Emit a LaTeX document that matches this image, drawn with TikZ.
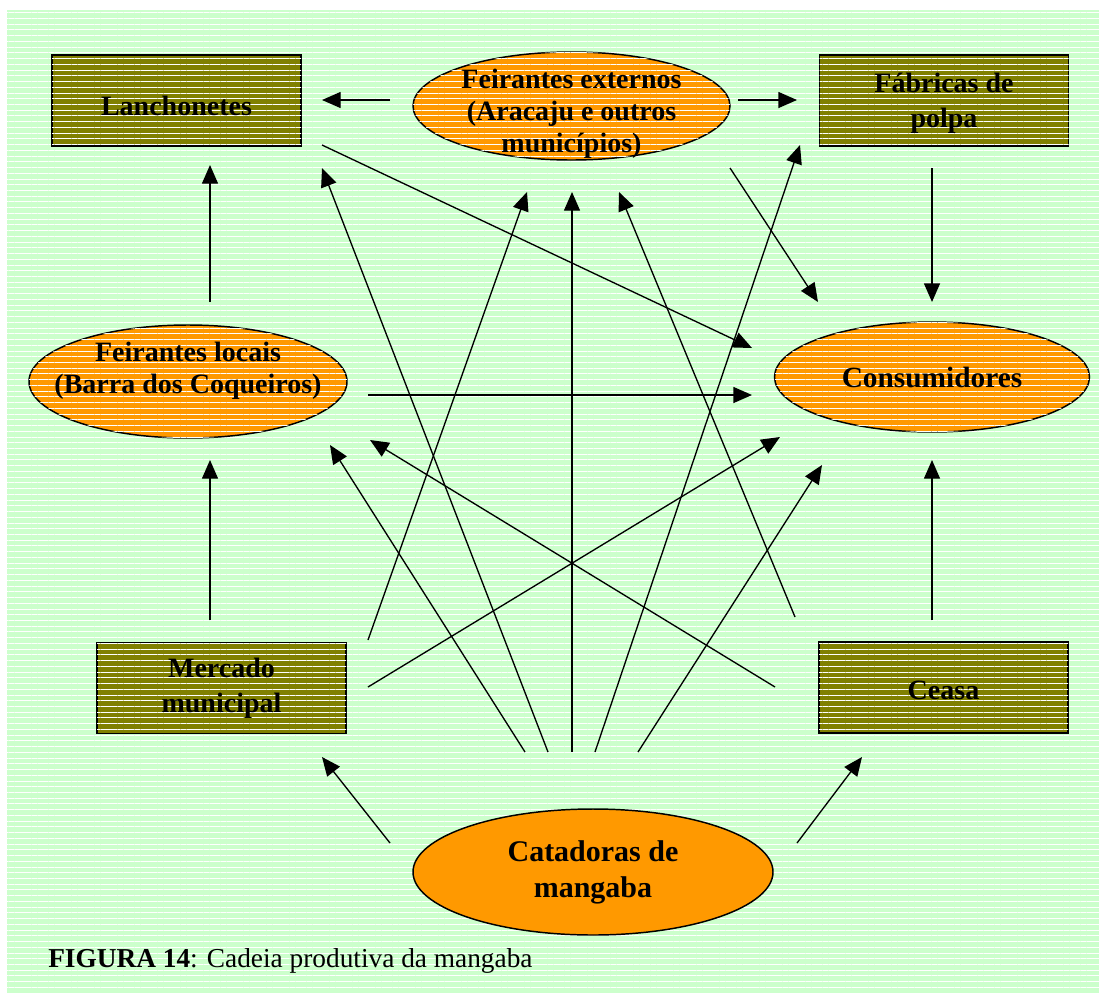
\documentclass[tikz,border=0pt]{standalone}
\usepackage{fontspec}
\setmainfont{Liberation Serif}
\usetikzlibrary{arrows.meta,shapes.geometric,patterns.meta}
\definecolor{bggreen}{HTML}{CCFFCC}
\definecolor{olivebox}{HTML}{808000}
\definecolor{orangeel}{HTML}{FF9900}
\tikzset{
  stripes/.style={postaction={pattern={Lines[angle=0,distance=4.3pt,line width=0.5pt]},pattern color=white}},
  boxnode/.style={rectangle, draw=black, line width=1.4pt, fill=olivebox, stripes,
    minimum width=186.75pt, minimum height=68.25pt, inner sep=0pt},
  boxtext/.style={inner sep=0pt, align=center, font=\fontsize{21pt}{26pt}\selectfont\bfseries},
  ellnode/.style={ellipse, draw=black, line width=1.1pt, fill=orangeel, inner sep=0pt},
  elltext/.style={inner sep=0pt, align=center, font=\fontsize{21pt}{24pt}\selectfont\bfseries},
  conn/.style={line width=1pt, -{Triangle[length=14pt,width=12pt]}},
}
\begin{document}
\begin{tikzpicture}[x=0.75pt,y=-0.75pt]
\useasboundingbox (0,0) rectangle (1099,993);
\path[fill=bggreen, stripes] (7,10) rectangle (1099,993);

% nodes
\node[boxnode, label={[boxtext, yshift=-4pt]center:{Lanchonetes}}] (lanch) at (176.5,100.5) {};
\node[boxnode, label={[boxtext, yshift=-2pt]center:{Fábricas de\\polpa}}] (fabr) at (944,100.5) {};
\node[boxnode, label={[boxtext]center:{Mercado\\municipal}}] (merc) at (221.5,688) {};
\node[boxnode, label={[boxtext, yshift=-2pt]center:{Ceasa}}] (ceasa) at (943.5,687.5) {};
\node[ellnode, stripes, minimum width=237.75pt, minimum height=81pt,
  label={[elltext, yshift=-6pt]center:{Feirantes externos\\(Aracaju e outros\\municípios)}}] (fext) at (571.5,106) {};
\node[ellnode, stripes, minimum width=238.5pt, minimum height=84.75pt,
  label={[elltext, yshift=8pt]center:{Feirantes locais\\(Barra dos Coqueiros)}}] (floc) at (188,381.5) {};
\node[ellnode, stripes, minimum width=236.25pt, minimum height=82.5pt,
  label={[elltext, font=\fontsize{22pt}{26pt}\selectfont\bfseries]center:{Consumidores}}] (cons) at (932,377) {};
\node[ellnode, minimum width=270pt, minimum height=94.5pt,
  label={[elltext, font=\fontsize{22.5pt}{27pt}\selectfont\bfseries]center:{Catadoras de\\mangaba}}] (cat) at (593,872) {};

\node[anchor=base west, inner sep=0pt, font=\fontsize{20.5pt}{24pt}\selectfont] (cap) at (48,967)
  {\textbf{FIGURA 14}: Cadeia produtiva da mangaba};

% connector end points
\coordinate (s1) at (390,100);  \coordinate (e1) at (322,100);
\coordinate (s2) at (738,100);  \coordinate (e2) at (797,100);
\coordinate (s3) at (210,302);  \coordinate (e3) at (210,165);
\coordinate (s4) at (932,168);  \coordinate (e4) at (932,302);
\coordinate (s5) at (730,168);  \coordinate (e5) at (818,302);
\coordinate (s6) at (322,145);  \coordinate (e6) at (752,348);
\coordinate (s7) at (368,395);  \coordinate (e7) at (752,395);
\coordinate (s8) at (210,620);  \coordinate (e8) at (210,460);
\coordinate (s9) at (932,620);  \coordinate (e9) at (932,460);
\coordinate (s10) at (390,843); \coordinate (e10) at (322,757);
\coordinate (s11) at (797,843); \coordinate (e11) at (862,757);
\coordinate (s12) at (548,752); \coordinate (e12) at (322,168);
\coordinate (s13) at (525,752); \coordinate (e13) at (330,445);
\coordinate (s14) at (572,752); \coordinate (e14) at (572,192);
\coordinate (s15) at (595,752); \coordinate (e15) at (800,145);
\coordinate (s16) at (638,752); \coordinate (e16) at (822,465);
\coordinate (s17) at (368,640); \coordinate (e17) at (527,192);
\coordinate (s18) at (368,687); \coordinate (e18) at (780,437);
\coordinate (s19) at (775,687); \coordinate (e19) at (370,440);
\coordinate (s20) at (795,617); \coordinate (e20) at (619,192);

\foreach \i in {1,...,20} { \draw[conn] (s\i) -- (e\i); }
\end{tikzpicture}
\end{document}
